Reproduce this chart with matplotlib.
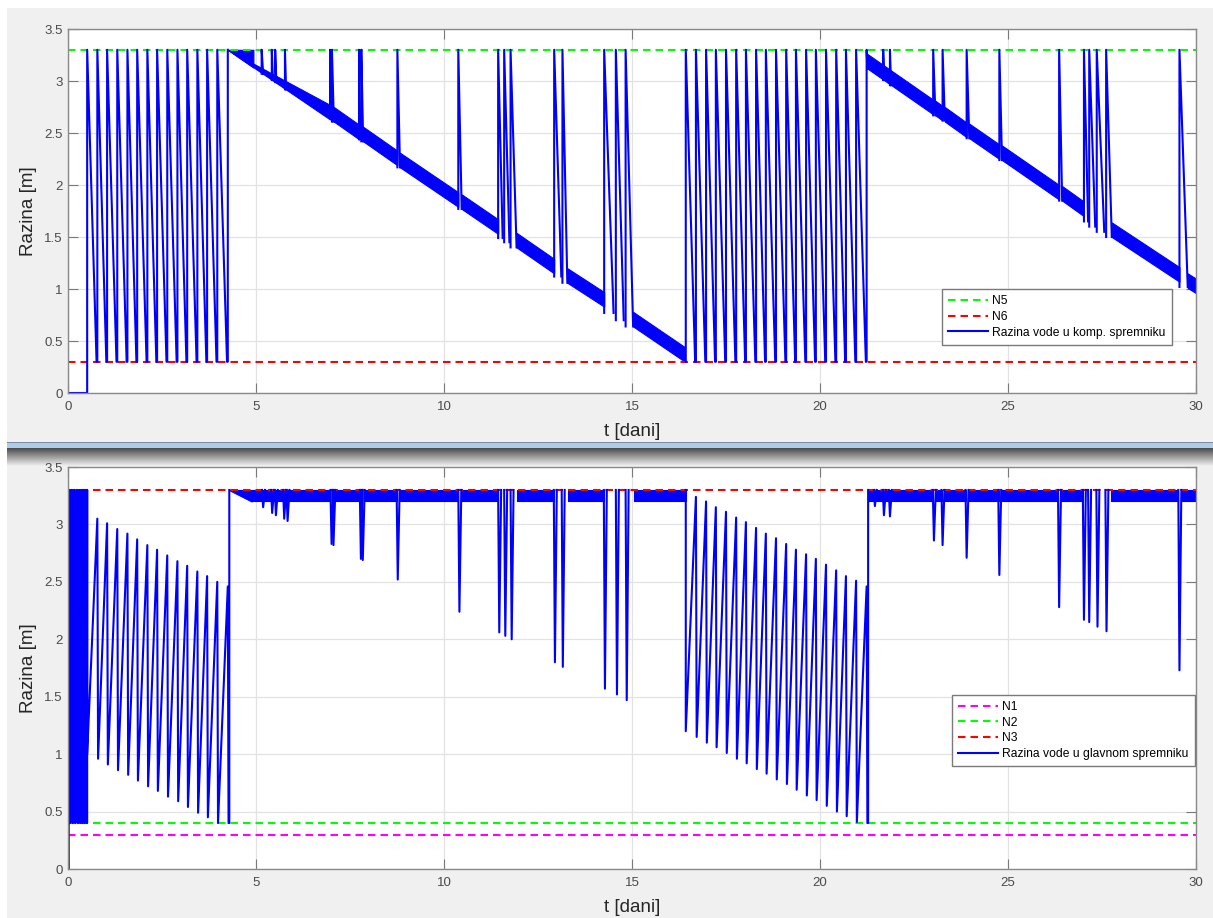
import numpy as np
import matplotlib.pyplot as plt
from matplotlib.patches import Rectangle
from matplotlib.ticker import FormatStrFormatter

# DATA -----------------------------------------------------------------------+
# limit levels [m]
N1, N2, N3 = 0.3, 0.4, 3.3
N5, N6 = 3.3, 0.3
t_span = [0, 30]

# refill instants of the two saw-tooth periods [dani]
saw1_t = [0.51, 0.78, 1.04, 1.31, 1.58, 1.84, 2.11, 2.37, 2.64, 2.91, 3.17,
          3.44, 3.70, 3.97, 4.25]
saw2_t = [16.43, 16.70, 16.97, 17.23, 17.50, 17.77, 18.03, 18.30, 18.56,
          18.83, 19.10, 19.36, 19.63, 19.89, 20.16, 20.43, 20.69, 20.96, 21.24]

# compensation tank - slowly draining band (start, end, level start, level end)
komp_band_t0 = [4.25, 7.07, 7.85, 8.83, 10.47, 11.93, 13.28, 15.03,
                21.26, 23.07, 23.32, 23.97, 24.84, 26.44, 27.76, 29.78]
komp_band_t1 = [6.97, 7.74, 8.76, 10.38, 11.44, 12.93, 14.26, 16.41,
                23.01, 23.26, 23.90, 24.77, 26.36, 27.02, 29.56, 30.00]
komp_band_y0 = [3.30, 2.61, 2.42, 2.17, 1.77, 1.40, 1.06, 0.64,
                3.12, 2.67, 2.61, 2.45, 2.24, 1.85, 1.50, 1.01]
komp_band_y1 = [2.63, 2.44, 2.19, 1.79, 1.53, 1.15, 0.83, 0.30,
                2.68, 2.62, 2.46, 2.25, 1.86, 1.70, 1.07, 0.96]
komp_cap_t = [4.25, 4.93]
komp_cap_y = [3.30, 3.13]

# compensation tank - short refills up to N5 (time up, time back, level after)
komp_spike_up = [5.15, 5.42, 5.51, 5.77, 6.97, 7.02, 7.74, 7.80, 8.76, 10.38,
                 11.44, 11.60, 11.77, 12.93, 13.15, 14.26, 14.57, 14.83,
                 21.68, 21.86, 23.01, 23.26, 23.90, 24.77, 26.36,
                 27.02, 27.16, 27.36, 27.61, 29.56]
komp_spike_dn = [5.19, 5.45, 5.54, 5.80, 7.00, 7.07, 7.77, 7.85, 8.83, 10.47,
                 11.56, 11.74, 11.93, 13.12, 13.28, 14.51, 14.78, 15.03,
                 21.71, 21.89, 23.07, 23.32, 23.97, 24.84, 26.44,
                 27.13, 27.32, 27.56, 27.76, 29.78]
komp_spike_low = [3.07, 3.01, 2.99, 2.92, 2.64, 2.61, 2.44, 2.42, 2.17, 1.77,
                  1.49, 1.45, 1.40, 1.12, 1.06, 0.77, 0.70, 0.64,
                  3.01, 2.96, 2.67, 2.62, 2.45, 2.24, 1.85,
                  1.65, 1.60, 1.55, 1.50, 1.02]

# main tank - fast switching at the start (pump on instants)
glavni_osc_t = [0.02, 0.09, 0.16, 0.23, 0.29, 0.35, 0.41, 0.47]
# main tank - saw-tooth peaks and lows
glavni_peak1 = [3.05, 3.01, 2.96, 2.92, 2.87, 2.82, 2.78, 2.73, 2.68, 2.64,
                2.59, 2.55, 2.50, 2.46]
glavni_low1 = [1.00, 0.96, 0.91, 0.86, 0.82, 0.77, 0.72, 0.68, 0.63, 0.59,
               0.54, 0.49, 0.45, 0.40, 0.40]
glavni_peak2 = [3.24, 3.20, 3.15, 3.11, 3.06, 3.02, 2.97, 2.92, 2.88, 2.83,
                2.78, 2.74, 2.70, 2.65, 2.60, 2.55, 2.51, 2.46]
glavni_low2 = [1.20, 1.15, 1.10, 1.06, 1.01, 0.96, 0.92, 0.87, 0.83, 0.78,
               0.74, 0.69, 0.64, 0.60, 0.55, 0.50, 0.46, 0.41, 0.40]

# main tank - full band between ~3.2 and N3
glavni_band_t0 = [4.28, 4.88, 7.08, 7.86, 8.80, 10.46, 11.93, 13.30, 15.05,
                  21.27, 23.07, 23.30, 23.95, 24.82, 26.42, 27.75, 29.62]
glavni_band_t1 = [4.88, 6.98, 7.76, 8.74, 10.37, 11.44, 12.93, 14.26, 16.43,
                  23.00, 23.24, 23.88, 24.75, 26.33, 27.00, 29.53, 30.00]
glavni_band_y0 = [3.30, 3.20, 3.20, 3.20, 3.20, 3.20, 3.20, 3.20, 3.20,
                  3.20, 3.20, 3.20, 3.20, 3.20, 3.20, 3.20, 3.20]
glavni_band_y1 = [3.20, 3.20, 3.20, 3.20, 3.20, 3.20, 3.20, 3.20, 3.20,
                  3.20, 3.20, 3.20, 3.20, 3.20, 3.20, 3.20, 3.20]

# main tank - dips while the compensation tank refills (time, lowest level)
glavni_dip_t = [5.19, 5.43, 5.53, 5.75, 5.84, 7.01, 7.06, 7.79, 7.84, 8.77,
                10.41, 11.47, 11.63, 11.80, 12.95, 13.16, 14.28, 14.60, 14.86,
                21.46, 21.70, 21.86, 23.03, 23.26, 23.90, 24.77, 26.36,
                27.02, 27.16, 27.38, 27.62, 29.56]
glavni_dip_y = [3.15, 3.10, 3.08, 3.05, 3.03, 2.83, 2.82, 2.70, 2.69, 2.52,
                2.24, 2.06, 2.03, 2.00, 1.80, 1.76, 1.57, 1.52, 1.47,
                3.16, 3.08, 3.07, 2.86, 2.82, 2.71, 2.56, 2.28,
                2.17, 2.15, 2.11, 2.07, 1.73]

# STYLE ----------------------------------------------------------------------+
W, H = 1213, 918
BLUE = '#0000ff'
LW = 1.5
DASH = (0, (3.6, 2.4))
plt.rcParams['font.family'] = 'Liberation Sans'


def fx(x):
	return x / W


def fy(y):
	return 1 - y / H


def style_axes(ax):
	ax.set_xlim(t_span)
	ax.set_ylim(0, 3.5)
	ax.set_xticks(np.arange(0, 31, 5))
	ax.set_yticks(np.arange(0, 3.51, 0.5))
	ax.yaxis.set_major_formatter(FormatStrFormatter('%g'))
	ax.tick_params(direction='in', length=7, width=0.8, color='#7a7a7a',
				   labelcolor='#4a4a4a', labelsize=9.5, top=True, right=True)
	ax.tick_params(axis='x', pad=6)
	ax.tick_params(axis='y', pad=4)
	ax.grid(True, color='#e2e2e2', lw=0.9)
	ax.set_axisbelow(True)
	for s in ax.spines.values():
		s.set_color('#8a8a8a')
		s.set_linewidth(1.0)
	ax.set_ylabel('Razina [m]', fontsize=13.5, color='#262626')
	ax.set_xlabel('t [dani]', fontsize=13.5, color='#262626')
	ax.yaxis.set_label_coords(-0.0275, 0.5)


# FIGURE ---------------------------------------------------------------------+
fig = plt.figure(figsize=(W / 100, H / 100), dpi=100)
fig.patch.set_facecolor('white')

# window backgrounds
fig.add_artist(Rectangle((fx(7), fy(442)), 1 - fx(7), (442 - 8) / H,
			   transform=fig.transFigure, fc='#f0f0f0', ec='none', zorder=-10))
fig.add_artist(Rectangle((fx(7), 0), 1 - fx(7), (H - 448) / H,
			   transform=fig.transFigure, fc='#f0f0f0', ec='none', zorder=-10))
fig.add_artist(Rectangle((fx(7), fy(448)), 1 - fx(7), 6 / H,
			   transform=fig.transFigure, fc='#aecbea', ec='none', zorder=-9))
fig.add_artist(Rectangle((fx(7), fy(443)), 1 - fx(7), 1.2 / H,
			   transform=fig.transFigure, fc='#7d8d9e', ec='none', zorder=-8))
gax = fig.add_axes([fx(7), fy(466), 1 - fx(7), 18 / H], zorder=-5)
grad = np.linspace(0.26, 0.94, 64).reshape(-1, 1)
gax.imshow(grad, cmap='gray', vmin=0, vmax=1, aspect='auto')
gax.axis('off')

# TOP: compensation tank -----------------------------------------------------+
ax1 = fig.add_axes([fx(68), fy(393), 1128 / W, 364 / H])
style_axes(ax1)
ax1.xaxis.set_label_coords(0.5, -0.106)
ax1.xaxis.label.set_va('center')

h5, = ax1.plot(t_span, [N5, N5], color='#00ff00', lw=LW, ls=DASH)
h6, = ax1.plot(t_span, [N6, N6], color='#ff0000', lw=LW, ls=DASH)


def komp_saw(rise, y_start):
	t, y = [rise[0]], [y_start]
	for i, r in enumerate(rise):
		if i:
			t += [r - 0.02, r]
			y += [N6, N6]
		t.append(r)
		y.append(N5)
	return t, y


t, y = komp_saw(saw1_t, 0.0)
hk, = ax1.plot([0] + t, [0] + y, color=BLUE, lw=LW)
t, y = komp_saw(saw2_t, N6)
ax1.plot(t + [komp_band_t0[8]], y + [komp_band_y0[8]], color=BLUE, lw=LW)

bw = 0.14
for t0, t1, y0, y1 in zip(komp_band_t0, komp_band_t1, komp_band_y0, komp_band_y1):
	ax1.fill_between([t0, t1], [y0, y1], np.minimum([y0 + bw, y1 + bw], N5),
					 color=BLUE, lw=0.8)
ax1.fill_between(komp_cap_t, komp_cap_y, [N5, N5], color=BLUE, lw=0.8)
for tu, td, lo in zip(komp_spike_up, komp_spike_dn, komp_spike_low):
	ax1.plot([tu, tu, td], [lo, N5, lo], color=BLUE, lw=LW)

ax1.legend([h5, h6, hk], ['N5', 'N6', 'Razina vode u komp. spremniku'],
		   loc='upper left', bbox_to_anchor=(0.7746, 0.2849), borderaxespad=0,
		   fontsize=8.7, handlelength=3.3, handletextpad=0.4, labelspacing=0.3,
		   borderpad=0.5, fancybox=False, framealpha=1, edgecolor='#7a7a7a')

# BOTTOM: main tank ----------------------------------------------------------+
ax2 = fig.add_axes([fx(68), fy(869), 1128 / W, 402 / H])
style_axes(ax2)
ax2.xaxis.set_label_coords(0.5, -0.097)
ax2.xaxis.label.set_va('center')

h1, = ax2.plot(t_span, [N1, N1], color='#ff00ff', lw=LW, ls=DASH)
h2, = ax2.plot(t_span, [N2, N2], color='#00ff00', lw=LW, ls=DASH)
h3, = ax2.plot(t_span, [N3, N3], color='#ff0000', lw=LW, ls=DASH)

# start and fast switching: up to N3, short hold, fall back to N2
gt, gy = [0, glavni_osc_t[0]], [0, 0]
for tt in glavni_osc_t:
	gt += [tt, tt + 0.015, tt + 0.03, tt + 0.04]
	gy += [N3, N3, N2, N2]
gt += [glavni_osc_t[-1] + 0.04]
gy += [N3]


def glavni_saw(rise, peaks, lows):
	t, y = [rise[0]], [lows[0]]
	for r, p, lo in zip(rise[1:], peaks, lows[1:]):
		t += [r, r + 0.02]
		y += [p, lo]
	t += [rise[-1] + 0.04, rise[-1] + 0.04]
	y += [lows[-1], N3]
	return t, y


t, y = glavni_saw(saw1_t, glavni_peak1, glavni_low1)
hg, = ax2.plot(gt + t, gy + y, color=BLUE, lw=LW)
t, y = glavni_saw(saw2_t, glavni_peak2, glavni_low2)
ax2.plot([glavni_band_t1[8]] + t, [N3] + y, color=BLUE, lw=LW)

for t0, t1, y0, y1 in zip(glavni_band_t0, glavni_band_t1, glavni_band_y0, glavni_band_y1):
	ax2.fill_between([t0, t1], [y0, y1], [N3, N3], color=BLUE, lw=0.8)
for td, lo in zip(glavni_dip_t, glavni_dip_y):
	ax2.plot([td - 0.03, td, td + 0.05], [N3, lo, N3], color=BLUE, lw=LW)

ax2.legend([h1, h2, h3, hg], ['N1', 'N2', 'N3', 'Razina vode u glavnom spremniku'],
		   loc='upper left', bbox_to_anchor=(0.7834, 0.4328), borderaxespad=0,
		   fontsize=8.7, handlelength=3.3, handletextpad=0.4, labelspacing=0.3,
		   borderpad=0.5, fancybox=False, framealpha=1, edgecolor='#7a7a7a')

fig.savefig('out.png', dpi=100)
